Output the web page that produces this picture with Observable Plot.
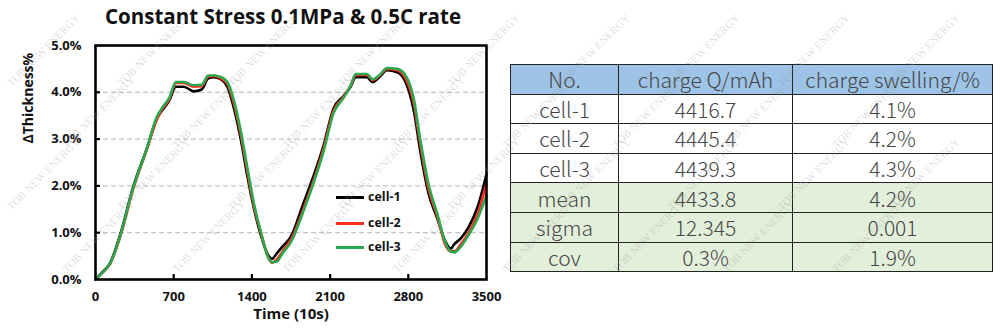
<!DOCTYPE html>
<html>
<head>
<meta charset="utf-8">
<script src="https://cdn.jsdelivr.net/npm/d3@7"></script>
<script src="https://cdn.jsdelivr.net/npm/@observablehq/plot@0.6"></script>
<style>
  html, body { margin: 0; padding: 0; background: #fff; }
  #page { position: relative; width: 1000px; height: 336px; overflow: hidden; background: #fff; }
  #title { position: absolute; left: 0; top: 2px; width: 566px; text-align: center;
    font-family: "Open Sans", sans-serif; font-weight: 700; font-size: 20.5px; color: #111; }
  #chart { position: absolute; left: 0; top: 30px; }
  #legend { position: absolute; left: 336px; top: 188px; font-family: "Open Sans", sans-serif;
    font-weight: 700; font-size: 12.5px; color: #111; }
  .lg { position: absolute; left: 0; white-space: nowrap; }
  .sw { position: absolute; left: 0; width: 28px; height: 3px; }
  .lt { position: absolute; left: 32px; }
  #tbl { position: absolute; left: 510px; top: 64px; border-collapse: collapse;
    font-family: "Noto Sans CJK SC Light", "Noto Sans CJK SC DemiLight", "Noto Sans CJK SC", "Noto Sans", sans-serif;
    font-weight: 300; color: #454545; font-size: 21px; }
  #tbl td { border: 1.5px solid #222; text-align: center; padding: 0; height: 28.6px; line-height: 28px; }
  #tbl tr.h td { background: #9dc3e6; }
  #tbl tr.g td { background: #e2efda; }
  .wm { position: absolute; font-family: "Liberation Serif", serif; font-size: 11px; color: rgba(150,150,150,0.33);
    transform: rotate(-45deg); transform-origin: left bottom; white-space: nowrap; pointer-events: none; line-height: 13px; }
</style>
</head>
<body>
<div id="page">
  <div id="title">Constant Stress 0.1MPa &amp; 0.5C rate</div>
  <div id="chart"></div>
  <div id="legend"></div>
  <table id="tbl"></table>
</div>
<script>
// ---- data ----
const time  = [0, 60, 130, 220, 340, 460, 550, 600, 660, 720, 790, 880, 950, 1010, 1060, 1120, 1180, 1240, 1300, 1360, 1420, 1480, 1550, 1580, 1620, 1680, 1750, 1860, 1950, 2040, 2130, 2220, 2280, 2330, 2430, 2480, 2540, 2610, 2700, 2770, 2850, 2910, 2980, 3060, 3130, 3180, 3210, 3270, 3340, 3420, 3500];
const cell1 = [0, 0.15, 0.35, 0.95, 2.0, 2.8, 3.45, 3.62, 3.82, 4.12, 4.12, 4.02, 4.06, 4.3, 4.32, 4.28, 4.12, 3.65, 3.0, 2.2, 1.5, 0.95, 0.5, 0.44, 0.55, 0.72, 0.92, 1.62, 2.2, 2.85, 3.65, 3.92, 4.1, 4.32, 4.32, 4.22, 4.32, 4.47, 4.43, 4.25, 3.6, 2.7, 1.85, 1.3, 0.82, 0.66, 0.75, 0.88, 1.12, 1.55, 2.25];
const cell2 = [0, 0.14, 0.33, 0.9, 1.95, 2.78, 3.42, 3.65, 3.85, 4.2, 4.2, 4.12, 4.13, 4.34, 4.35, 4.3, 4.18, 3.75, 3.1, 2.3, 1.55, 1.0, 0.45, 0.36, 0.42, 0.62, 0.85, 1.5, 2.1, 2.78, 3.6, 3.9, 4.12, 4.37, 4.37, 4.26, 4.35, 4.5, 4.47, 4.32, 3.75, 2.85, 1.95, 1.35, 0.75, 0.6, 0.6, 0.75, 1.0, 1.4, 2.05];
const cell3 = [0, 0.14, 0.34, 0.92, 1.98, 2.8, 3.48, 3.68, 3.88, 4.22, 4.22, 4.15, 4.16, 4.36, 4.36, 4.33, 4.22, 3.82, 3.18, 2.38, 1.6, 1.02, 0.45, 0.37, 0.38, 0.58, 0.8, 1.45, 2.05, 2.72, 3.55, 3.88, 4.12, 4.39, 4.39, 4.28, 4.36, 4.52, 4.5, 4.38, 3.85, 2.95, 2.05, 1.4, 0.8, 0.6, 0.58, 0.7, 0.95, 1.3, 1.8];
const seriesNames = ["cell-1", "cell-2", "cell-3"];
const seriesColors = ["#000000", "#ff2b1c", "#2aa84f"];
const xTicks = [0, 700, 1400, 2100, 2800, 3500];
const yTicks = [0, 1, 2, 3, 4, 5];
const yGrid = [1, 2, 3, 4];

const tableHeader = ["No.", "charge Q/mAh", "charge swelling/%"];
const tableRowNames = ["cell-1", "cell-2", "cell-3", "mean", "sigma", "cov"];
const chargeQ = ["4416.7", "4445.4", "4439.3", "4433.8", "12.345", "0.3%"];
const chargeSwelling = ["4.1%", "4.2%", "4.3%", "4.2%", "0.001", "1.9%"];
const watermarkText = "TOB NEW ENERGY";

// ---- chart ----
const seriesValues = [cell1, cell2, cell3];
const rows = [];
seriesNames.forEach((name, k) => time.forEach((t, i) => rows.push({t, v: seriesValues[k][i], cell: name})));

const W = 500, H = 306, ML = 95, MR = 14, MT = 15, MB = 57;
const innerW = W - ML - MR, innerH = H - MT - MB;

const chart = Plot.plot({
  width: W, height: H, marginLeft: ML, marginRight: MR, marginTop: MT, marginBottom: MB,
  style: {fontFamily: "'Open Sans', sans-serif", fontSize: "13px", color: "#111", background: "transparent", overflow: "visible"},
  x: {domain: [0, 3500]},
  y: {domain: [0, 5]},
  color: {domain: seriesNames, range: seriesColors},
  marks: [
    Plot.ruleY(yGrid, {y: d => d, stroke: "#b5b5b5", strokeDasharray: "5,3"}),
    Plot.line(rows, {x: "t", y: "v", z: "cell", stroke: "cell", strokeWidth: 2.6, curve: "monotone-x"}),
    Plot.tickX(xTicks.slice(1, -1), {x: d => d, insetTop: innerH - 5, stroke: "#000", strokeWidth: 2.2}),
    Plot.tickY(yTicks.slice(1, -1), {y: d => d, insetRight: innerW - 5, stroke: "#000", strokeWidth: 2.2}),
    Plot.frame({stroke: "#000", strokeWidth: 2.6}),
    Plot.axisX({ticks: xTicks, tickSize: 0, tickPadding: 12, fontWeight: "bold", label: null, tickFormat: d => String(d)}),
    Plot.axisY({ticks: yTicks, tickSize: 0, tickPadding: 14, fontWeight: "bold", label: null, tickFormat: d => d.toFixed(1) + "%"}),
    Plot.text(["Time (10s)"], {frameAnchor: "bottom", dy: 39, fontWeight: "bold", fontSize: 15}),
    Plot.text(["ΔThickness%"], {frameAnchor: "left", rotate: -90, dx: -67, dy: -19, fontWeight: "bold", fontSize: 14})
  ]
});
document.getElementById("chart").appendChild(chart);

// ---- legend ----
const legend = document.getElementById("legend");
const legendGap = [0, 26, 50];
seriesNames.forEach((name, k) => {
  const row = document.createElement("div");
  row.className = "lg";
  row.style.top = legendGap[k] + "px";
  row.innerHTML = `<div class="sw" style="top:8px;background:${seriesColors[k]}"></div><div class="lt">${name}</div>`;
  legend.appendChild(row);
});

// ---- table ----
const tbl = document.getElementById("tbl");
const colW = [107, 173, 199];
const hr = document.createElement("tr");
hr.className = "h";
tableHeader.forEach((h, j) => { const td = document.createElement("td"); td.textContent = h; td.style.width = colW[j] + "px"; hr.appendChild(td); });
tbl.appendChild(hr);
tableRowNames.forEach((n, i) => {
  const tr = document.createElement("tr");
  if (i >= 3) tr.className = "g";
  [n, chargeQ[i], chargeSwelling[i]].forEach(v => { const td = document.createElement("td"); td.textContent = v; tr.appendChild(td); });
  tbl.appendChild(tr);
});

// ---- watermark (only copies that fit fully inside the page) ----
const page = document.getElementById("page");
for (let r = 0; r < 5; r++) {
  for (let c = 0; c < 10; c++) {
    const left = c * 110 + (r % 2 ? 55 : 0) + 14;
    const top = r * 62 + 76;
    if (left + 76 > 996 || top + 14 > 334) continue;
    const d = document.createElement("div");
    d.className = "wm";
    d.textContent = watermarkText;
    d.style.left = left + "px";
    d.style.top = top + "px";
    page.appendChild(d);
  }
}
</script>
</body>
</html>
